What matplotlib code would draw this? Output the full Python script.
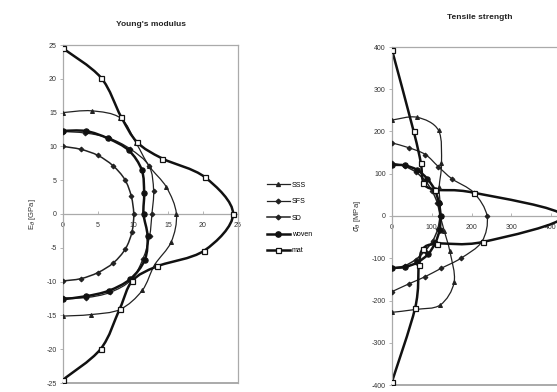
import numpy as np
import matplotlib
matplotlib.use("Agg")
import matplotlib.pyplot as plt
from matplotlib.path import Path
from matplotlib.patches import PathPatch
from matplotlib.lines import Line2D

plt.rcParams['font.family'] = ['Liberation Sans', 'DejaVu Sans']

# polar angle of each measurement (deg), from top (+90) to bottom (-90)
angles_deg = [90, 75, 60, 45, 30, 15, 0, -15, -30, -45, -60, -75, -90]

series_names = ["SSS", "SFS", "SD", "woven", "mat"]

# Young's modulus [GPa]
E_SSS = [15.0, 15.8, 16.4, 14.8, 14.2, 15.3, 16.2, 16.0, 15.1, 16.0, 16.3, 15.4, 15.1]
E_SFS = [12.2, 12.4, 13.0, 13.6, 14.2, 13.4, 12.7, 12.8, 13.2, 13.8, 13.4, 12.8, 12.4]
E_SD = [10.0, 9.9, 10.0, 10.1, 10.2, 10.1, 10.1, 10.2, 10.3, 10.2, 10.0, 9.9, 9.9]
E_woven = [12.3, 12.7, 12.9, 13.3, 13.0, 12.0, 11.5, 12.5, 13.5, 13.6, 13.1, 12.6, 12.6]
E_mat = [24.5, 20.9, 16.6, 15.0, 16.4, 21.0, 24.3, 20.9, 15.5, 14.0, 16.2, 20.7, 24.5]

# Tensile strength [MPa]
S_SSS = [227, 242, 234, 176, 137, 125, 122, 136, 168, 221, 243, 229, 228]
S_SFS = [173, 167, 168, 165, 175, 213, 239, 234, 200, 175, 166, 166, 179]
S_SD = [125, 122, 120, 118, 117, 118, 120, 119, 118, 117, 119, 122, 124]
S_woven = [121, 124, 126, 125, 124, 122, 122, 124, 126, 128, 127, 125, 123]
S_mat = [393, 209, 145, 112, 125, 213, 430, 237, 131, 110, 135, 225, 392]

E_yticks = [-25, -20, -15, -10, -5, 0, 5, 10, 15, 20, 25]
E_xticks = [0, 5, 10, 15, 20, 25]
S_yticks = [-400, -300, -200, -100, 0, 100, 200, 300, 400]
S_xticks = [0, 100, 200, 300, 400]

styles = {
    "SSS": dict(color="#222222", lw=0.9, marker="^", ms=2.8, mfc="#222222", mec="#222222"),
    "SFS": dict(color="#222222", lw=0.9, marker="D", ms=2.4, mfc="#222222", mec="#222222"),
    "SD": dict(color="#222222", lw=1.1, marker="D", ms=2.4, mfc="#222222", mec="#222222"),
    "woven": dict(color="#111111", lw=1.8, marker="o", ms=3.8, mfc="#111111", mec="#111111"),
    "mat": dict(color="#111111", lw=1.8, marker="s", ms=3.6, mfc="white", mec="#111111", mew=0.9),
}

fig = plt.figure(figsize=(5.57, 3.92), dpi=100)
W, H = 557.0, 392.0
axE = fig.add_axes([63 / W, 1 - 383 / H, 175 / W, 338 / H])
axS = fig.add_axes([392 / W, 1 - 385 / H, 175 / W, 338 / H])

th = np.deg2rad(np.array(angles_deg, dtype=float))


def polar_xy(r):
    r = np.asarray(r, dtype=float)
    return r * np.cos(th), r * np.sin(th)


def smooth_path(ax, x, y, color, lw):
    """Smoothed line through points (Catmull-Rom drawn as cubic Bezier), in display space."""
    pts = ax.transData.transform(np.column_stack([x, y]))
    n = len(pts)
    verts = [pts[0]]
    codes = [Path.MOVETO]
    for i in range(n - 1):
        p0 = pts[i - 1] if i > 0 else pts[i]
        p1 = pts[i]
        p2 = pts[i + 1]
        p3 = pts[i + 2] if i + 2 < n else pts[i + 1]
        c1 = p1 + (p2 - p0) / 6.0
        c2 = p2 - (p3 - p1) / 6.0
        verts += [c1, c2, p2]
        codes += [Path.CURVE4] * 3
    verts = ax.transData.inverted().transform(np.array(verts))
    patch = PathPatch(Path(verts, codes), fill=False, edgecolor=color, lw=lw,
                      capstyle="round", joinstyle="round", zorder=2)
    ax.add_patch(patch)


def style_axis(ax, xlim, ylim, xticks, yticks, ylabel, title, tpad):
    ax.set_xlim(*xlim)
    ax.set_ylim(*ylim)
    frame_c = "#aaaaaa"
    for s in ["left", "top", "right", "bottom"]:
        ax.spines[s].set_color(frame_c)
        ax.spines[s].set_linewidth(0.9)
    ax.spines["bottom"].set_position(("data", 0))
    ax.axhline(ylim[0], color=frame_c, lw=1.4, clip_on=False, zorder=0)
    ax.set_xticks(xticks)
    ax.set_yticks(yticks)
    ax.set_xticklabels([str(v) for v in xticks])
    ax.set_yticklabels([str(v) for v in yticks])
    ax.tick_params(axis="x", direction="in", length=2.5, width=0.6, color=frame_c,
                   labelsize=5, pad=6, labelcolor="#333333")
    ax.tick_params(axis="y", direction="out", length=2.5, width=0.6, color=frame_c,
                   labelsize=5, pad=2, labelcolor="#333333")
    ax.set_ylabel(ylabel, fontsize=5.5, labelpad=6, color="#333333")
    ax.set_title(title, fontsize=6, fontweight="bold", pad=tpad, color="#222222")


style_axis(axE, (0, 25), (-25, 25), E_xticks, E_yticks, r"E$_{\theta}$ [GPa]", "Young's modulus", 14)
style_axis(axS, (0, 440), (-400, 400), S_xticks, S_yticks, r"$\sigma_{\theta}$ [MPa]", "Tensile strength", 20)

E_data = [E_SSS, E_SFS, E_SD, E_woven, E_mat]
S_data = [S_SSS, S_SFS, S_SD, S_woven, S_mat]

for ax, data in ((axE, E_data), (axS, S_data)):
    for name, r in zip(series_names, data):
        st = styles[name]
        x, y = polar_xy(r)
        smooth_path(ax, x, y, st["color"], st["lw"])
        ax.plot(x, y, linestyle="none", marker=st["marker"], ms=st["ms"],
                mfc=st["mfc"], mec=st["mec"], mew=st.get("mew", 0.8), zorder=3)

handles = [Line2D([], [], **styles[n]) for n in series_names]
fig.legend(handles=handles, labels=series_names, loc="upper left",
           bbox_to_anchor=(262 / W, 1 - 177 / H), frameon=False, fontsize=5,
           handlelength=3.3, labelspacing=1.35, handletextpad=0.3, borderpad=0.2)

fig.savefig("out.png", dpi=100)
